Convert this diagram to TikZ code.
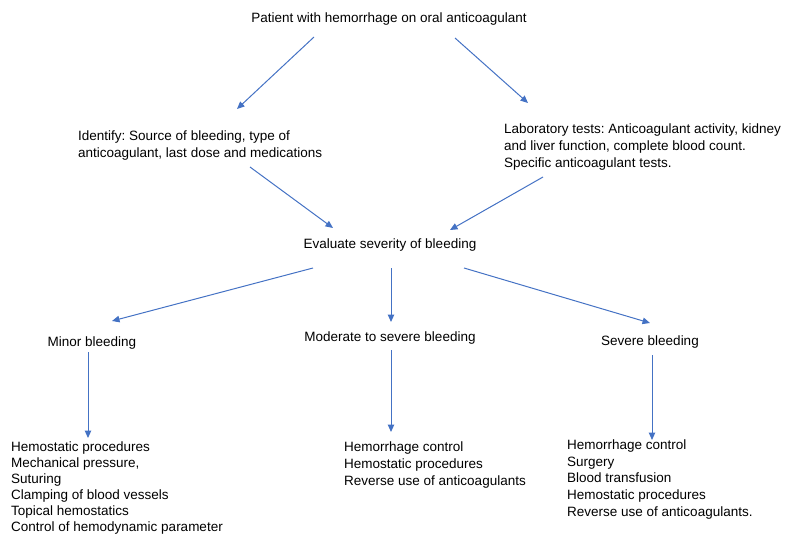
\documentclass[tikz,border=0pt]{standalone}
\usepackage{fontspec}
\setmainfont{Liberation Sans}
\usetikzlibrary{arrows.meta}
\definecolor{arrowblue}{RGB}{68,114,196}
\begin{document}
\frenchspacing
\begin{tikzpicture}[x=1pt,y=-1pt,
  txt/.style={inner sep=0pt,font=\fontsize{13.5}{16.6}\selectfont},
  lst/.style={txt,anchor=base west,align=left},
  flow/.style={draw=arrowblue,line width=1pt,-{Triangle[length=7.5pt,width=6.5pt]}}]
\useasboundingbox (0,0) rectangle (787,535);
% nodes (multi-line nodes are placed by the baseline of their last line)
\node[txt,anchor=base] (top) at (389,23) {Patient with hemorrhage on oral anticoagulant};
\node[lst] (ident) at (78,157) {Identify: Source of bleeding, type of\\anticoagulant, last dose and medications};
\node[lst] (lab) at (504,167) {Laboratory tests: Anticoagulant activity, kidney\\and liver function, complete blood count.\\Specific anticoagulant tests.};
\node[txt,anchor=base] (eval) at (390,248) {Evaluate severity of bleeding};
\node[txt,anchor=base] (minor) at (92,346) {Minor bleeding};
\node[txt,anchor=base] (mod) at (390,341) {Moderate to severe bleeding};
\node[txt,anchor=base] (sev) at (650,345) {Severe bleeding};
\node[lst,font=\fontsize{13.5}{16}\selectfont] (minlist) at (11,531) {Hemostatic procedures\\Mechanical pressure,\\Suturing\\Clamping of blood vessels\\Topical hemostatics\\Control of hemodynamic parameter};
\node[lst] (modlist) at (344,485) {Hemorrhage control\\Hemostatic procedures\\Reverse use of anticoagulants};
\node[lst] (sevlist) at (567,516) {Hemorrhage control\\Surgery\\Blood transfusion\\Hemostatic procedures\\Reverse use of anticoagulants.};
% connector end points
\coordinate (a1s) at (314,37);  \coordinate (a1e) at (237,109);
\coordinate (a2s) at (455,38);  \coordinate (a2e) at (528,103);
\coordinate (a3s) at (250,167); \coordinate (a3e) at (333,228);
\coordinate (a4s) at (543,177); \coordinate (a4e) at (450,230);
\coordinate (a5s) at (313,268); \coordinate (a5e) at (112,321);
\coordinate (a6s) at (391,268); \coordinate (a6e) at (391,322);
\coordinate (a7s) at (464,268); \coordinate (a7e) at (650,323);
\coordinate (a8s) at (88,352);  \coordinate (a8e) at (88,438);
\coordinate (a9s) at (391,350); \coordinate (a9e) at (391,432);
\coordinate (a10s) at (652,355); \coordinate (a10e) at (652,440);
% connectors
\draw[flow] (a1s) -- (a1e);
\draw[flow] (a2s) -- (a2e);
\draw[flow] (a3s) -- (a3e);
\draw[flow] (a4s) -- (a4e);
\draw[flow] (a5s) -- (a5e);
\draw[flow] (a6s) -- (a6e);
\draw[flow] (a7s) -- (a7e);
\draw[flow] (a8s) -- (a8e);
\draw[flow] (a9s) -- (a9e);
\draw[flow] (a10s) -- (a10e);
\end{tikzpicture}
\end{document}
